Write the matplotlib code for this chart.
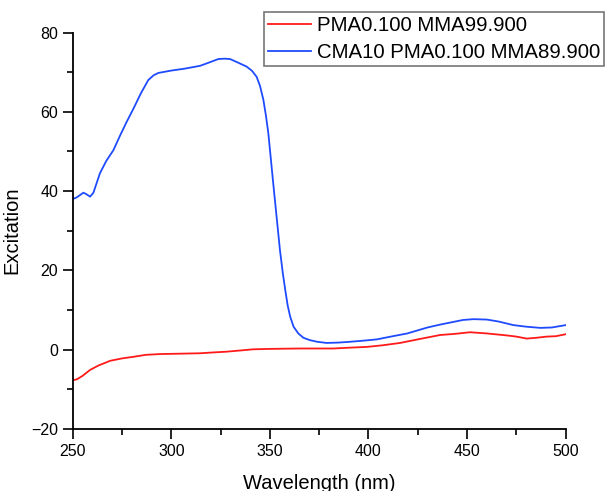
import matplotlib.pyplot as plt

plt.rcParams['font.family'] = ['Liberation Sans', 'DejaVu Sans']

# PMA0.100 MMA99.900 (red)
wl_red = [250, 252, 255, 258.8, 263, 269, 275, 280.7, 287, 294.3, 305, 314.6, 321, 328.1,
          335, 341.6, 350, 357, 365.3, 375, 382.2, 390, 399.1, 407, 416, 426, 436.3, 444,
          451.5, 460, 470.1, 475, 480.2, 485, 490.4, 495, 500]
exc_red = [-7.7, -7.5, -6.6, -5.1, -4.0, -2.8, -2.2, -1.8, -1.3, -1.1, -1.0, -0.9, -0.7, -0.5,
           -0.2, 0.1, 0.2, 0.25, 0.3, 0.3, 0.3, 0.5, 0.7, 1.1, 1.7, 2.7, 3.7, 4.0,
           4.4, 4.1, 3.6, 3.3, 2.8, 3.0, 3.3, 3.4, 3.9]

# CMA10 PMA0.100 MMA89.900 (blue)
wl_blue = [250, 252, 255.4, 257, 258.8, 260.5, 263.8, 267, 270.6, 274, 277.4, 281, 284.5,
           288.3, 291, 293.4, 300, 307, 314.6, 319, 323.8, 327, 329.8, 333, 338.2, 341,
           343.3, 345, 346.7, 348, 349.2, 350.5, 351.7, 353.5, 355.1, 356.5, 357.8, 359,
           360.3, 362, 364.4, 367, 370.3, 374, 378.8, 385, 390.8, 398, 404.2, 411.3, 419.7,
           429.9, 437, 443, 448, 453.2, 460, 466, 473.5, 480, 487.2, 493, 500]
exc_blue = [38.0, 38.4, 39.6, 39.2, 38.6, 39.6, 44.5, 47.6, 50.3, 54.0, 57.5, 61.0, 64.6,
            68.0, 69.2, 69.8, 70.4, 70.9, 71.6, 72.4, 73.3, 73.4, 73.3, 72.6, 71.4, 70.3,
            68.8, 66.5, 63.0, 59.0, 54.6, 48.0, 41.9, 33.0, 25.1, 19.5, 15.0, 11.2,
            8.3, 5.8, 4.1, 3.0, 2.4, 2.0, 1.7, 1.8, 2.0, 2.3, 2.6, 3.3, 4.1,
            5.6, 6.4, 7.0, 7.5, 7.7, 7.6, 7.1, 6.2, 5.8, 5.5, 5.6, 6.2]

fig = plt.figure(figsize=(6.05, 4.91), dpi=100)
ax = fig.add_axes([0.1202, 0.1263, 0.8148, 0.8075])

ax.plot(wl_red, exc_red, color='#ff1a1a', lw=1.3, label='PMA0.100 MMA99.900')
ax.plot(wl_blue, exc_blue, color='#1f4bff', lw=1.3, label='CMA10 PMA0.100 MMA89.900')

ax.set_xlim(250, 500)
ax.set_ylim(-20, 80)
ax.set_xticks([250, 300, 350, 400, 450, 500])
ax.set_xticks([275, 325, 375, 425, 475], minor=True)
ax.set_yticks([-20, 0, 20, 40, 60, 80])
ax.set_yticks([-10, 10, 30, 50, 70], minor=True)

for side in ['top', 'right']:
    ax.spines[side].set_visible(False)
for side in ['left', 'bottom']:
    ax.spines[side].set_linewidth(1.3)

ax.tick_params(which='major', direction='out', length=7, width=1.2, labelsize=11.5)
ax.tick_params(which='minor', direction='out', length=4, width=1.2)

ax.set_xlabel('Wavelength (nm)', fontsize=14.5, labelpad=11)
ax.set_ylabel('Excitation', fontsize=14.5, labelpad=7)

leg = ax.legend(loc='upper right', bbox_to_anchor=(604 / 605, 1 - 12 / 491),
                bbox_transform=fig.transFigure, fontsize=14.7, frameon=True,
                fancybox=False, edgecolor='#555555', handlelength=2.1,
                handletextpad=0.3, labelspacing=0.4, borderpad=0.18,
                borderaxespad=0)
leg.get_frame().set_linewidth(1.2)

fig.savefig('out.png', dpi=100)
